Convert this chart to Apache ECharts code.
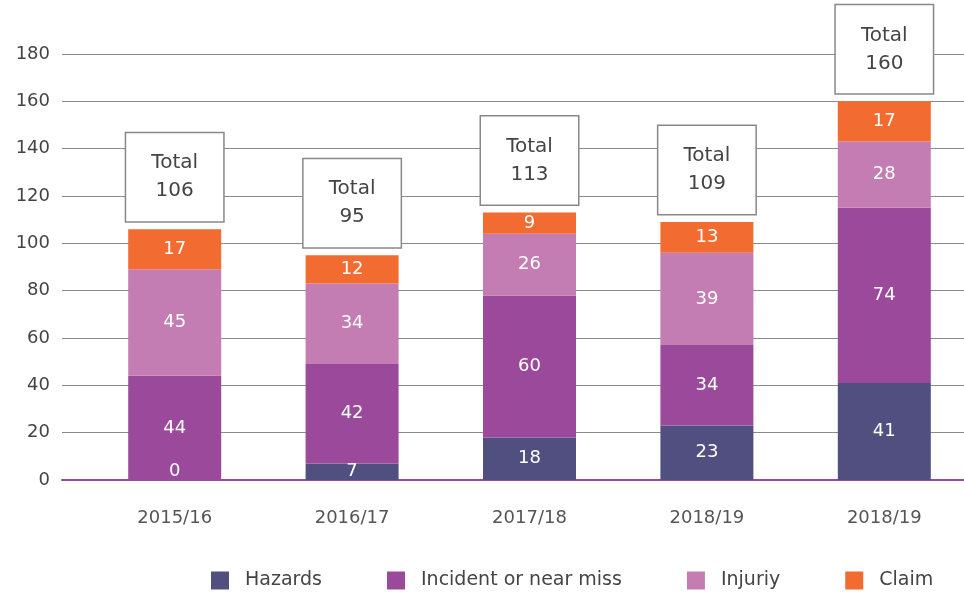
<!DOCTYPE html>
<html>
<head>
<meta charset="utf-8">
<script src="https://cdn.jsdelivr.net/npm/echarts@6/dist/echarts.min.js"></script>
<style>
  html, body { margin: 0; padding: 0; background: #fff; }
  #chart { width: 964px; height: 594px; }
</style>
</head>
<body>
<div id="chart"></div>
<script>
const categories = ['2015/16', '2016/17', '2017/18', '2018/19', '2018/19'];
const hazards = [0, 7, 18, 23, 41];
const incidents = [44, 42, 60, 34, 74];
const injuries = [45, 34, 26, 39, 28];
const claims = [17, 12, 9, 13, 17];
const totals = [106, 95, 113, 109, 160];
const yTicks = [0, 20, 40, 60, 80, 100, 120, 140, 160, 180];

const font = '"DejaVu Sans", sans-serif';
const colors = ['#514f80', '#9b4a9b', '#c47db3', '#f26b30'];

function barSeries(name, values, color) {
  return {
    name: name,
    type: 'bar',
    stack: 'all',
    xAxisIndex: 1,
    yAxisIndex: 1,
    barWidth: 93,
    itemStyle: { color: color },
    label: {
      show: true,
      position: 'inside',
      color: '#fff',
      fontSize: 18,
      fontFamily: font
    },
    // zero-height segment: lift its label a bit, as in the original
    data: values.map(v => v === 0 ? { value: v, label: { offset: [0, -9] } } : v)
  };
}

const chart = echarts.init(document.getElementById('chart'));
const option = {
  animation: false,
  textStyle: { fontFamily: font },
  grid: [
    { left: 62, right: 0, top: 54, bottom: 114 },
    // bars sit in their own grid, a bit wider than the visible one (source image is cropped on the right)
    { left: 86, width: 887, top: 54, bottom: 114, outerBoundsMode: 'none', containLabel: false }
  ],
  legend: {
    data: ['Hazards', 'Incident or near miss', 'Injuriy', 'Claim'],
    left: 211,
    bottom: 4,
    padding: 0,
    itemWidth: 18,
    itemHeight: 18,
    itemGap: 65,
    icon: 'rect',
    textStyle: { color: '#444', fontSize: 19, fontFamily: font, padding: [0, 0, 0, 11] }
  },
  xAxis: [
    {
      type: 'category',
      gridIndex: 0,
      data: categories,
      axisLine: { lineStyle: { color: '#9b4a9b', width: 2 } },
      axisTick: { show: false },
      axisLabel: { show: false }
    },
    {
      type: 'category',
      gridIndex: 1,
      data: categories,
      axisLine: { show: false },
      axisTick: { show: false },
      axisLabel: { color: '#555', fontSize: 18, margin: 29, fontFamily: font }
    }
  ],
  yAxis: [
    {
      type: 'value',
      gridIndex: 0,
      min: yTicks[0],
      max: yTicks[yTicks.length - 1],
      interval: 20,
      axisLine: { show: false },
      axisTick: { show: false },
      axisLabel: { color: '#444', fontSize: 18, margin: 12, fontFamily: font },
      splitLine: { lineStyle: { color: '#8a8a8a', width: 1 } }
    },
    {
      type: 'value',
      gridIndex: 1,
      min: yTicks[0],
      max: yTicks[yTicks.length - 1],
      interval: 20,
      show: false,
      splitLine: { show: false }
    }
  ],
  series: [
    barSeries('Hazards', hazards, colors[0]),
    barSeries('Incident or near miss', incidents, colors[1]),
    barSeries('Injuriy', injuries, colors[2]),
    barSeries('Claim', claims, colors[3]),
    {
      name: 'Total',
      type: 'bar',
      stack: 'all',
      xAxisIndex: 1,
      yAxisIndex: 1,
      barWidth: 93,
      itemStyle: { color: 'transparent' },
      data: totals.map(() => 0),
      label: {
        show: true,
        position: 'top',
        distance: 8,
        formatter: p => 'Total\n' + totals[p.dataIndex],
        color: '#444',
        fontSize: 20,
        lineHeight: 28,
        fontFamily: font,
        backgroundColor: '#fff',
        borderColor: '#888',
        borderWidth: 1.5,
        width: 97,
        align: 'center',
        padding: [16, 0, 16, 0]
      }
    }
  ]
};
chart.setOption(option);
window.onresize = function () {
  chart.resize();
};
</script>
</body>
</html>
